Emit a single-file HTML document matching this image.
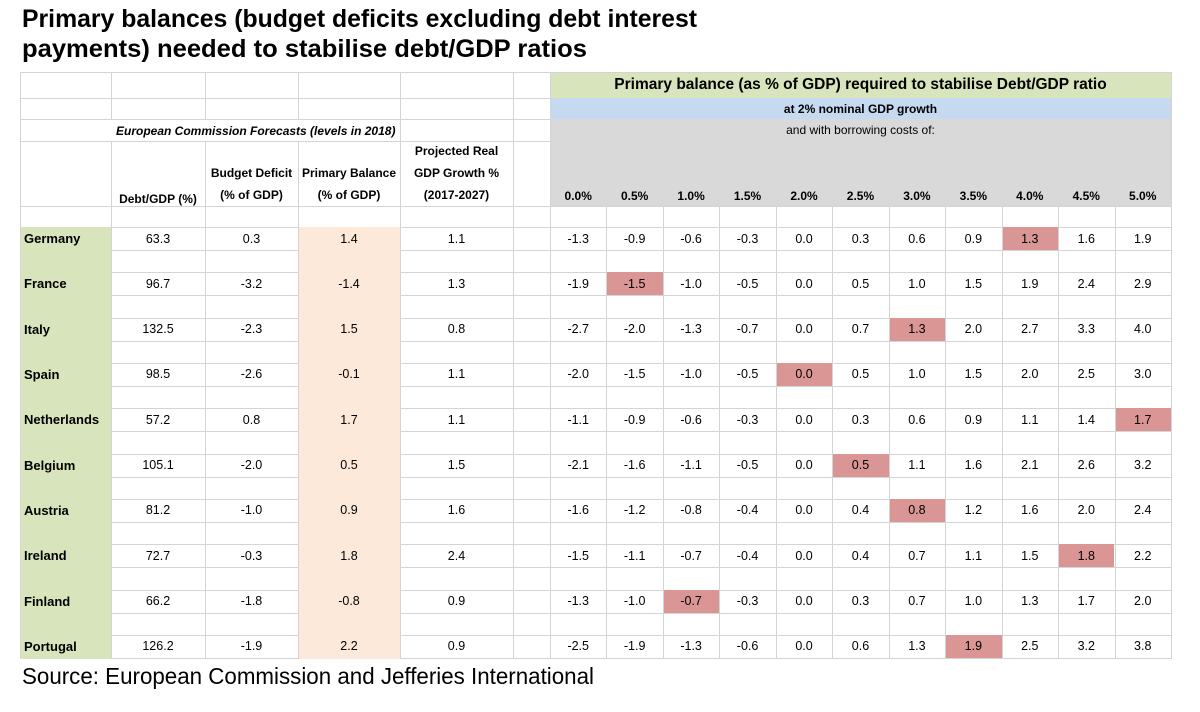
<!DOCTYPE html>
<html><head><meta charset="utf-8"><style>
body{margin:0;width:1200px;height:712px;background:#fff;overflow:hidden;position:relative;font-family:"Liberation Sans",sans-serif}
.a{position:absolute;box-sizing:border-box}
.t{position:absolute;white-space:nowrap;color:#000}
.c{position:absolute;display:flex;align-items:center;justify-content:center;font-size:12.5px;box-sizing:border-box;white-space:nowrap}
</style></head><body>
<div id="title1" class="t" style="left:22px;top:5px;font-size:25px;font-weight:bold;transform-origin:0 0">Primary balances (budget deficits excluding debt interest</div>
<div id="title2" class="t" style="left:22px;top:35px;font-size:25px;font-weight:bold;transform-origin:0 0">payments) needed to stabilise debt/GDP ratios</div>
<div id="tbl"></div>
<div id="src" class="t" style="left:22px;top:663px;font-size:23px;transform-origin:0 0">Source: European Commission and Jefferies International</div>
<script>
const countries=["Germany","France","Italy","Spain","Netherlands","Belgium","Austria","Ireland","Finland","Portugal"];
const debtGdp=["63.3","96.7","132.5","98.5","57.2","105.1","81.2","72.7","66.2","126.2"];
const budgetDeficit=["0.3","-3.2","-2.3","-2.6","0.8","-2.0","-1.0","-0.3","-1.8","-1.9"];
const primaryBalance=["1.4","-1.4","1.5","-0.1","1.7","0.5","0.9","1.8","-0.8","2.2"];
const realGrowth=["1.1","1.3","0.8","1.1","1.1","1.5","1.6","2.4","0.9","0.9"];
const rates=["0.0%","0.5%","1.0%","1.5%","2.0%","2.5%","3.0%","3.5%","4.0%","4.5%","5.0%"];
const required=[
["-1.3","-0.9","-0.6","-0.3","0.0","0.3","0.6","0.9","1.3","1.6","1.9"],
["-1.9","-1.5","-1.0","-0.5","0.0","0.5","1.0","1.5","1.9","2.4","2.9"],
["-2.7","-2.0","-1.3","-0.7","0.0","0.7","1.3","2.0","2.7","3.3","4.0"],
["-2.0","-1.5","-1.0","-0.5","0.0","0.5","1.0","1.5","2.0","2.5","3.0"],
["-1.1","-0.9","-0.6","-0.3","0.0","0.3","0.6","0.9","1.1","1.4","1.7"],
["-2.1","-1.6","-1.1","-0.5","0.0","0.5","1.1","1.6","2.1","2.6","3.2"],
["-1.6","-1.2","-0.8","-0.4","0.0","0.4","0.8","1.2","1.6","2.0","2.4"],
["-1.5","-1.1","-0.7","-0.4","0.0","0.4","0.7","1.1","1.5","1.8","2.2"],
["-1.3","-1.0","-0.7","-0.3","0.0","0.3","0.7","1.0","1.3","1.7","2.0"],
["-2.5","-1.9","-1.3","-0.6","0.0","0.6","1.3","1.9","2.5","3.2","3.8"]];
const highlightIdx=[8,1,6,4,10,5,6,9,2,7];

const T=document.getElementById('tbl');
function box(x,y,w,h,bg,name){const d=document.createElement('div');d.className='a';
d.style.cssText=`left:${x}px;top:${y}px;width:${w}px;height:${h}px;background:${bg}`;


T.appendChild(d);return d;}
function cell(x,y,w,h,txt,name,extra){const d=document.createElement('div');d.className='c';
d.style.cssText=`left:${x}px;top:${y}px;width:${w}px;height:${h}px;`+(extra||'');d.innerHTML=txt;


T.appendChild(d);return d;}
const colL=[20,111,205,298,400,513,550];
const RX0=550,RW=56.45;
const rowY=i=>227+i*45.33, RH=23;
const G='#d4d4d4';
box(550,72,621,26,'#d8e4bc','header-green-band');
box(550,98,621,21,'#c5d9f1','header-blue-band');
box(550,119,621,87,'#d9d9d9','header-grey-band');
const hl=[72,98,119,141,206,227];
for(let i=0;i<10;i++){hl.push(rowY(i)+RH);if(i<9)hl.push(rowY(i+1));}
hl.forEach(y=>{
 let x0=20,x1=1171;
 if(y===98||y===119||y===141)x1=550;
 box(x0,y,x1-x0,1,G,'grid-line-h');
});
colL.concat([1171]).forEach(x=>{box(x,72,1,587,G,'grid-line-v');});
for(let j=1;j<11;j++)box(RX0+j*RW,206,1,453,G,'grid-line-v');
box(21,227,90,432,'#d8e4bc','country-column-fill');
box(299,227,101,432,'#fde9d9','primary-balance-column-fill');
for(let i=0;i<10;i++){box(RX0+highlightIdx[i]*RW+1,rowY(i),RW-1,RH,'#da9694','highlight-cell');}
cell(111,120,289,21,'<i>European Commission Forecasts (levels in 2018)</i>','forecast-group-header','font-weight:bold;font-size:12px;justify-content:flex-start;padding-left:5px;background:#fff');
cell(111,141,94,65,'Debt/GDP (%)','header-debt-gdp','font-weight:bold;font-size:12px;align-items:flex-end;padding-bottom:0px');
cell(205,141,93,65,'Budget Deficit<br>(% of GDP)','header-budget-deficit','font-weight:bold;font-size:12px;align-items:flex-end;padding-bottom:0px;text-align:center;line-height:22px');
cell(298,141,102,65,'Primary Balance<br>(% of GDP)','header-primary-balance','font-weight:bold;font-size:12px;align-items:flex-end;padding-bottom:0px;text-align:center;line-height:22px');
cell(400,126,113,80,'Projected Real<br>GDP Growth %<br>(2017-2027)','header-real-growth','font-weight:bold;font-size:12px;align-items:flex-end;padding-bottom:0px;text-align:center;line-height:22px');
cell(550,72,621,26,'Primary balance (as % of GDP) required to stabilise Debt/GDP ratio','header-required-balance','font-weight:bold;font-size:15.5px');
cell(550,98,621,21,'at 2% nominal GDP growth','header-nominal-growth','font-weight:bold;font-size:12px');
cell(550,119,621,22,'and with borrowing costs of:','header-borrowing-costs','font-size:12px');
rates.forEach((r,j)=>cell(RX0+j*RW,185,RW,22,r,'rate-header-'+j,'font-weight:bold;font-size:12px'));
for(let i=0;i<10;i++){const y=rowY(i);
 cell(20,y,91,RH,countries[i],'country-label','font-weight:bold;font-size:13px;justify-content:flex-start;padding-left:4px');
 cell(111,y,94,RH,debtGdp[i],'debt-gdp-value');
 cell(205,y,93,RH,budgetDeficit[i],'budget-deficit-value');
 cell(298,y,102,RH,primaryBalance[i],'primary-balance-value');
 cell(400,y,113,RH,realGrowth[i],'real-growth-value');
 required[i].forEach((v,j)=>cell(RX0+j*RW,y,RW,RH,v,'required-balance-value'));
}
function fit(id,w){const e=document.getElementById(id);const r=e.getBoundingClientRect().width;e.style.transform=`scaleX(${w/r})`;}
fit('title1',675);fit('title2',565);fit('src',572);
</script>
</body></html>
